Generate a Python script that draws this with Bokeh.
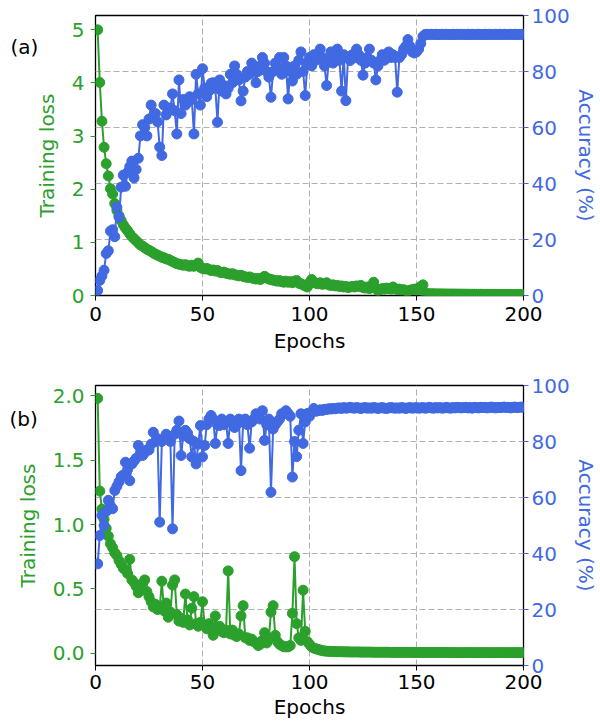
from bokeh.plotting import figure
from bokeh.models import Range1d, LinearAxis, FixedTicker, Grid, Label, NumeralTickFormatter
from bokeh.layouts import column
from bokeh.embed import file_html
from bokeh.resources import INLINE

# ---------------- data ----------------
epochs = list(range(1, 201))

loss_a = [
    5.00, 4.01, 3.28, 2.79, 2.48, 2.25, 2.01, 1.91, 1.73, 1.60,
    1.50, 1.41, 1.33, 1.27, 1.22, 1.16, 1.11, 1.07, 1.03, 0.99,
    0.95, 0.93, 0.90, 0.87, 0.85, 0.83, 0.80, 0.78, 0.76, 0.74,
    0.72, 0.71, 0.69, 0.68, 0.66, 0.64, 0.62, 0.60, 0.59, 0.58,
    0.57, 0.58, 0.56, 0.55, 0.57, 0.55, 0.58, 0.61, 0.53, 0.51,
    0.50, 0.51, 0.49, 0.47, 0.48, 0.46, 0.47, 0.44, 0.43, 0.44,
    0.42, 0.41, 0.40, 0.41, 0.39, 0.38, 0.37, 0.38, 0.36, 0.35,
    0.34, 0.35, 0.33, 0.32, 0.31, 0.32, 0.30, 0.33, 0.36, 0.33,
    0.31, 0.30, 0.29, 0.28, 0.27, 0.28, 0.26, 0.25, 0.27, 0.25,
    0.26, 0.24, 0.27, 0.28, 0.23, 0.22, 0.20, 0.18, 0.16, 0.24,
    0.30, 0.25, 0.23, 0.22, 0.24, 0.21, 0.22, 0.24, 0.20, 0.19,
    0.20, 0.18, 0.19, 0.17, 0.18, 0.16, 0.17, 0.15, 0.16, 0.17,
    0.16, 0.18, 0.17, 0.19, 0.15, 0.14, 0.16, 0.13, 0.18, 0.25,
    0.14, 0.09, 0.11, 0.13, 0.12, 0.14, 0.13, 0.12, 0.16, 0.13,
    0.11, 0.12, 0.10, 0.11, 0.09, 0.08, 0.10, 0.11, 0.12, 0.10,
    0.14, 0.17, 0.20, 0.04, 0.035, 0.033, 0.032, 0.031, 0.030, 0.030,
    0.029, 0.029, 0.028, 0.028, 0.027, 0.027, 0.027, 0.026, 0.026, 0.026,
    0.025, 0.025, 0.025, 0.024, 0.024, 0.024, 0.023, 0.023, 0.023, 0.023,
    0.022, 0.022, 0.022, 0.022, 0.021, 0.021, 0.021, 0.021, 0.020, 0.020,
    0.020, 0.020, 0.020, 0.019, 0.019, 0.019, 0.019, 0.019, 0.018, 0.018,
]

acc_a = [
    1.8, 5.4, 7.0, 9.0, 15.0, 16.0, 23.0, 23.5, 21.0, 31.5,
    28.0, 38.7, 43.0, 39.0, 44.0, 46.0, 48.0, 42.0, 45.0, 49.0,
    57.0, 61.0, 60.0, 57.0, 63.0, 68.0, 64.0, 65.0, 62.0, 53.0,
    50.0, 68.0, 64.5, 66.0, 67.0, 72.0, 66.0, 57.7, 77.0, 65.0,
    70.0, 68.0, 69.0, 71.0, 70.0, 57.7, 79.0, 72.0, 68.0, 81.0,
    74.0, 71.0, 73.0, 75.8, 76.0, 74.0, 61.9, 77.0, 73.0, 75.0,
    72.0, 74.0, 79.0, 76.0, 82.0, 79.0, 77.0, 69.5, 73.0, 78.0,
    80.0, 79.0, 83.0, 82.0, 76.0, 80.0, 82.0, 85.0, 83.0, 80.0,
    78.0, 70.8, 80.0, 83.0, 81.0, 85.0, 79.0, 85.0, 82.0, 70.2,
    80.0, 76.6, 82.0, 79.0, 84.0, 87.0, 80.0, 71.4, 83.0, 85.0,
    82.0, 86.0, 84.0, 86.0, 88.0, 85.0, 82.0, 75.0, 84.0, 87.0,
    83.0, 86.0, 88.0, 84.0, 73.0, 86.0, 69.6, 85.0, 83.9, 86.0,
    85.0, 88.0, 86.0, 84.0, 78.7, 83.0, 85.0, 88.0, 84.0, 83.0,
    77.0, 82.0, 84.0, 86.0, 84.0, 85.0, 87.0, 85.0, 86.0, 85.0,
    72.6, 85.0, 86.0, 88.0, 89.0, 91.4, 89.0, 87.0, 86.6, 87.0,
    88.0, 90.0, 92.5, 93.2, 93.3, 93.2, 93.3, 93.2, 93.3, 93.2,
    93.2, 93.3, 93.2, 93.3, 93.2, 93.2, 93.3, 93.2, 93.3, 93.2,
    93.3, 93.2, 93.2, 93.3, 93.2, 93.3, 93.2, 93.2, 93.3, 93.2,
    93.2, 93.3, 93.2, 93.3, 93.2, 93.2, 93.3, 93.2, 93.3, 93.2,
    93.3, 93.2, 93.2, 93.3, 93.2, 93.3, 93.2, 93.2, 93.3, 93.2,
]

loss_b = [
    1.98, 1.26, 1.12, 1.04, 0.97, 0.91, 0.85, 0.82, 0.78, 0.76,
    0.72, 0.69, 0.66, 0.65, 0.62, 0.73, 0.57, 0.55, 0.52, 0.47,
    0.50, 0.54, 0.57, 0.48, 0.44, 0.40, 0.36, 0.38, 0.34, 0.35,
    0.56, 0.33, 0.39, 0.28, 0.32, 0.53, 0.57, 0.30, 0.25, 0.27,
    0.24, 0.46, 0.26, 0.22, 0.35, 0.44, 0.23, 0.21, 0.24, 0.40,
    0.22, 0.19, 0.23, 0.18, 0.14, 0.29, 0.20, 0.21, 0.17, 0.16,
    0.18, 0.64, 0.15, 0.18, 0.14, 0.13, 0.15, 0.29, 0.37, 0.12,
    0.12, 0.10, 0.11, 0.09, 0.08, 0.06, 0.07, 0.10, 0.16, 0.08,
    0.12, 0.32, 0.37, 0.14, 0.09, 0.07, 0.06, 0.05, 0.05, 0.05,
    0.06, 0.31, 0.75, 0.23, 0.12, 0.10, 0.49, 0.17, 0.09, 0.07,
    0.05, 0.04, 0.035, 0.030, 0.025, 0.020, 0.018, 0.016, 0.015, 0.014,
    0.013, 0.013, 0.012, 0.012, 0.012, 0.011, 0.011, 0.011, 0.010, 0.010,
    0.010, 0.010, 0.010, 0.009, 0.009, 0.009, 0.009, 0.009, 0.009, 0.008,
    0.008, 0.008, 0.008, 0.008, 0.008, 0.008, 0.008, 0.007, 0.007, 0.007,
    0.007, 0.007, 0.007, 0.007, 0.007, 0.007, 0.007, 0.007, 0.006, 0.006,
    0.006, 0.006, 0.006, 0.006, 0.006, 0.006, 0.006, 0.006, 0.006, 0.006,
    0.006, 0.006, 0.006, 0.006, 0.005, 0.005, 0.005, 0.005, 0.005, 0.005,
    0.005, 0.005, 0.005, 0.005, 0.005, 0.005, 0.005, 0.005, 0.005, 0.005,
    0.005, 0.005, 0.005, 0.005, 0.005, 0.005, 0.005, 0.005, 0.005, 0.005,
    0.005, 0.005, 0.005, 0.005, 0.005, 0.005, 0.005, 0.005, 0.005, 0.005,
]

acc_b = [
    36.3, 46.4, 53.6, 50.0, 55.0, 59.0, 57.0, 56.0, 62.5, 64.0,
    65.6, 67.4, 68.0, 72.6, 70.0, 66.0, 72.0, 73.0, 74.0, 78.6,
    76.0, 75.0, 76.0, 77.0, 77.0, 79.0, 83.3, 80.0, 81.0, 51.2,
    80.0, 81.0, 82.6, 81.0, 80.0, 48.8, 82.6, 84.0, 87.3, 75.0,
    82.0, 84.0, 83.0, 81.0, 74.5, 80.0, 72.0, 79.0, 85.7, 74.5,
    78.6, 86.0, 88.0, 89.3, 88.0, 79.3, 86.0, 85.7, 88.0, 86.0,
    87.0, 79.3, 88.0, 87.0, 85.0, 86.0, 88.0, 69.6, 87.0, 88.0,
    86.0, 77.6, 87.0, 88.0, 89.9, 89.0, 88.0, 91.0, 80.4, 86.0,
    88.0, 61.9, 84.5, 86.0, 87.0, 88.0, 89.9, 90.0, 91.0, 90.0,
    89.0, 67.3, 80.0, 74.6, 84.0, 89.9, 79.3, 87.0, 90.0, 89.0,
    90.5, 91.8, 90.8, 91.0, 91.3, 91.1, 91.5, 91.4, 91.7, 91.6,
    91.8, 91.7, 91.9, 92.0, 91.8, 92.1, 91.9, 92.0, 92.2, 92.0,
    91.9, 92.1, 92.0, 91.8, 92.0, 92.1, 91.9, 92.0, 91.9, 92.1,
    92.0, 91.8, 92.0, 92.1, 91.9, 91.8, 92.0, 92.1, 92.0, 91.9,
    92.0, 91.9, 92.1, 92.0, 91.8, 92.0, 92.1, 91.9, 92.0, 92.1,
    91.9, 92.0, 92.1, 91.9, 92.0, 92.2, 92.0, 91.9, 92.1, 92.0,
    92.1, 91.9, 92.0, 92.2, 92.0, 91.9, 92.1, 92.0, 92.2, 92.1,
    92.0, 92.1, 92.2, 92.0, 92.1, 91.9, 92.2, 92.1, 92.0, 92.2,
    92.1, 92.2, 92.0, 92.1, 92.3, 92.1, 92.0, 92.2, 92.1, 92.2,
    92.3, 92.1, 92.2, 92.0, 92.2, 92.3, 92.1, 92.2, 92.3, 92.2,
]

x_ticks = [0, 50, 100, 150, 200]
acc_ticks = [0, 20, 40, 60, 80, 100]
loss_ticks_a = [0, 1, 2, 3, 4, 5]
loss_ticks_b = [0.0, 0.5, 1.0, 1.5, 2.0]

# ---------------- style ----------------
GREEN = "#2ca02c"
BLUE = "#4169e1"
GRIDC = "#b0b0b0"
FONT = "DejaVu Sans"
FS = "20px"


def make_panel(loss, acc, ylo, yhi, loss_ticks, loss_fmt, height, top, bottom, x_std, x_lab_std):
    p = figure(width=600, height=height, x_range=Range1d(0, 200), y_range=Range1d(ylo, yhi),
               output_backend="svg", toolbar_location=None,
               min_border_left=95, min_border_right=77, min_border_top=top, min_border_bottom=bottom)
    p.extra_y_ranges = {"acc": Range1d(0, 100)}
    p.outline_line_color = "black"
    p.outline_line_width = 1.3
    p.background_fill_color = "white"
    p.border_fill_color = "white"

    p.xgrid.ticker = FixedTicker(ticks=[50, 100, 150])
    p.xgrid.grid_line_color = GRIDC
    p.xgrid.grid_line_dash = "6 3"
    p.xgrid.grid_line_width = 1
    p.ygrid.visible = False
    g = Grid(dimension=1, ticker=FixedTicker(ticks=[20, 40, 60, 80]), y_range_name="acc",
             grid_line_color=GRIDC, grid_line_dash="6 3", grid_line_width=1)
    p.add_layout(g)

    xa = p.xaxis[0]
    xa.ticker = FixedTicker(ticks=x_ticks)
    xa.axis_label = "Epochs"
    xa.axis_line_color = None
    xa.major_tick_out = 5
    xa.major_tick_in = 0
    xa.minor_tick_out = 0
    xa.minor_tick_in = 0
    xa.major_tick_line_color = "black"
    xa.major_label_text_font = FONT
    xa.major_label_text_font_size = FS
    xa.major_label_text_color = "black"
    xa.major_label_standoff = x_std
    xa.axis_label_text_font = FONT
    xa.axis_label_text_font_size = FS
    xa.axis_label_text_font_style = "normal"
    xa.axis_label_text_color = "black"
    xa.axis_label_standoff = x_lab_std

    ya = p.yaxis[0]
    ya.ticker = FixedTicker(ticks=loss_ticks)
    ya.formatter = NumeralTickFormatter(format=loss_fmt)
    ya.axis_label = "Training loss"
    ya.axis_line_color = None
    ya.major_tick_out = 5
    ya.major_tick_in = 0
    ya.minor_tick_out = 0
    ya.minor_tick_in = 0
    ya.major_tick_line_color = GREEN
    ya.major_label_text_font = FONT
    ya.major_label_text_font_size = FS
    ya.major_label_text_color = GREEN
    ya.major_label_standoff = 6
    ya.axis_label_text_font = FONT
    ya.axis_label_text_font_size = FS
    ya.axis_label_text_font_style = "normal"
    ya.axis_label_text_color = GREEN
    ya.axis_label_standoff = 10

    ra = LinearAxis(y_range_name="acc", ticker=FixedTicker(ticks=acc_ticks), axis_label="Accuracy (%)")
    ra.axis_line_color = None
    ra.major_tick_out = 5
    ra.major_tick_in = 0
    ra.minor_tick_out = 0
    ra.minor_tick_in = 0
    ra.major_tick_line_color = BLUE
    ra.major_label_text_font = FONT
    ra.major_label_text_font_size = FS
    ra.major_label_text_color = BLUE
    ra.major_label_standoff = 3
    ra.axis_label_text_font = FONT
    ra.axis_label_text_font_size = FS
    ra.axis_label_text_font_style = "normal"
    ra.axis_label_text_color = BLUE
    ra.axis_label_standoff = 1
    p.add_layout(ra, "right")

    p.line(epochs, loss, line_color=GREEN, line_width=2)
    p.scatter(epochs, loss, size=10, fill_color=GREEN, line_color=GREEN)
    p.line(epochs, acc, line_color=BLUE, line_width=2, y_range_name="acc")
    p.scatter(epochs, acc, size=10, fill_color=BLUE, line_color=BLUE, y_range_name="acc")
    return p


pa = make_panel(loss_a, acc_a, 0, 5.27, loss_ticks_a, "0", 359, 15, 64, 6, 5)
pb = make_panel(loss_b, acc_b, -0.095, 2.08, loss_ticks_b, "0.0", 362, 26, 56, 4, 3)

# panel tags placed in side panels so they are not clipped to the frame
lab_a = Label(x=7, y=249, x_units="screen", y_units="screen", text="(a)",
              text_font=FONT, text_font_size=FS, text_color="black",
              text_baseline="middle", text_align="left")
pa.add_layout(lab_a, "left")
lab_b = Label(x=-86, y=-33, x_units="screen", y_units="screen", text="(b)",
              text_font=FONT, text_font_size=FS, text_color="black",
              text_baseline="middle", text_align="left")
pb.add_layout(lab_b, "above")

layout = column(pa, pb)
open("out.html", "w").write(file_html(layout, INLINE))
